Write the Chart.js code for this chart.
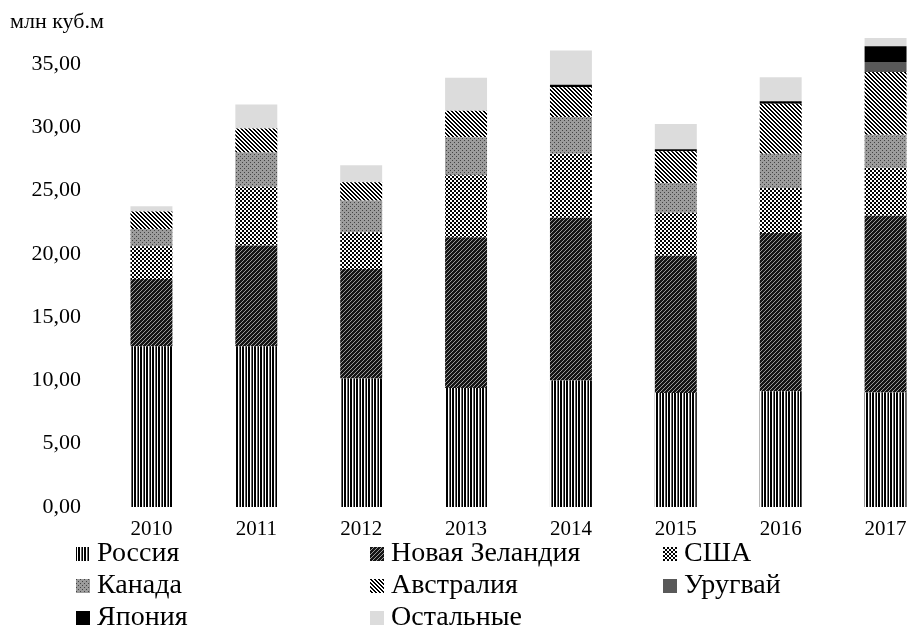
<!DOCTYPE html>
<html>
<head>
<meta charset="utf-8">
<script src="https://cdn.jsdelivr.net/npm/chart.js@4"></script>
<style>
  html, body { margin: 0; padding: 0; background: #fff; overflow: hidden; width: 908px; height: 630px; }
  #wrap { position: relative; width: 908px; height: 630px; overflow: hidden; }
  #chart { position: absolute; left: 0; top: 0; }
  #legend {
    position: absolute; left: 76px; top: 536px;
    display: grid; grid-template-columns: 294px 293px 200px; grid-auto-rows: 32px;
    font-family: "Liberation Serif", "Times New Roman", serif; font-size: 28px; color: #000;
  }
  .item { display: flex; align-items: center; white-space: nowrap; line-height: 32px; }
  .item canvas { width: 14px; height: 14px; margin-right: 7px; margin-top: 3px; flex: none; }
</style>
</head>
<body>
<div id="wrap">
  <canvas id="chart" width="938" height="540" style="width:938px;height:540px"></canvas>
  <div id="legend"></div>
</div>
<script>
// годы
const years = ['2010', '2011', '2012', '2013', '2014', '2015', '2016', '2017'];

// млн куб.м, снизу вверх по столбцу
const russia     = [12.7, 12.7, 10.15, 9.4, 10.0, 9.0, 9.15, 9.05];
const newZealand = [5.3, 7.95, 8.65, 11.9, 12.85, 10.85, 12.5, 13.95];
const usa        = [2.6, 4.65, 2.9, 4.9, 5.05, 3.4, 3.55, 3.8];
const canada     = [1.35, 2.7, 2.5, 3.0, 2.9, 2.35, 2.7, 2.6];
const australia  = [1.4, 1.9, 1.45, 2.1, 2.35, 2.5, 3.95, 4.95];
const uruguay    = [0, 0, 0, 0, 0, 0, 0, 0.8];
const japan      = [0, 0, 0, 0, 0.2, 0.15, 0.2, 1.25];
const others     = [0.4, 1.9, 1.35, 2.6, 2.7, 2.0, 1.9, 0.65];

const seriesNames = ['Россия', 'Новая Зеландия', 'США', 'Канада', 'Австралия', 'Уругвай', 'Япония', 'Остальные'];
const seriesData = [russia, newZealand, usa, canada, australia, uruguay, japan, others];

// small tiles for the hatch fills
function tile(w, h, draw) {
    const c = document.createElement('canvas');
    c.width = w; c.height = h;
    draw(c.getContext('2d'));
    return c;
}
function px(ctx, color, pts) {
    ctx.fillStyle = color;
    pts.forEach(p => ctx.fillRect(p[0], p[1], 1, 1));
}

const tiles = [
    // Россия - vertical lines
    tile(6, 1, g => {
        px(g, '#000', [[0, 0], [2, 0], [3, 0]]);
        px(g, '#fff', [[1, 0], [4, 0]]);
        px(g, '#666', [[5, 0]]);
    }),
    // Новая Зеландия - dark with thin "/" lines
    tile(4, 4, g => {
        g.fillStyle = '#151515'; g.fillRect(0, 0, 4, 4);
        px(g, '#999', [[3, 0], [2, 1], [1, 2], [0, 3]]);
    }),
    // США - checkerboard
    tile(4, 4, g => {
        g.fillStyle = '#fff'; g.fillRect(0, 0, 4, 4);
        g.fillStyle = '#000'; g.fillRect(0, 0, 2, 2); g.fillRect(2, 2, 2, 2);
    }),
    // Канада - gray with dots
    tile(4, 4, g => {
        g.fillStyle = '#9c9c9c'; g.fillRect(0, 0, 4, 4);
        px(g, '#444', [[0, 0], [2, 2]]);
    }),
    // Австралия - "\" stripes
    tile(4, 4, g => {
        g.fillStyle = '#fff'; g.fillRect(0, 0, 4, 4);
        for (let i = 0; i < 4; i++) {
            px(g, '#000', [[i, i], [(i + 1) % 4, i]]);
        }
    }),
    tile(1, 1, g => { g.fillStyle = '#595959'; g.fillRect(0, 0, 1, 1); }),
    tile(1, 1, g => { g.fillStyle = '#000'; g.fillRect(0, 0, 1, 1); }),
    tile(1, 1, g => { g.fillStyle = '#dcdcdc'; g.fillRect(0, 0, 1, 1); })
];

const ctx = document.getElementById('chart').getContext('2d');
const fills = tiles.map(t => ctx.createPattern(t, 'repeat'));

const font = '"Liberation Serif", "Times New Roman", serif';

new Chart(ctx, {
    type: 'bar',
    data: {
        labels: years,
        datasets: seriesNames.map((name, i) => ({
            label: name,
            data: seriesData[i],
            backgroundColor: fills[i],
            borderWidth: 0,
            categoryPercentage: 1,
            barPercentage: 0.4
        }))
    },
    options: {
        responsive: false,
        animation: false,
        layout: { padding: { left: 10, right: 0, top: 0, bottom: 0 } },
        plugins: {
            legend: { display: false },
            tooltip: { enabled: false },
            title: {
                display: true,
                text: 'млн куб.м',
                align: 'start',
                color: '#000',
                font: { family: font, size: 22, weight: 'normal', lineHeight: 1 },
                padding: { top: 11, bottom: 0 }
            }
        },
        scales: {
            x: {
                stacked: true,
                grid: { display: false },
                border: { display: false },
                ticks: { color: '#000', font: { family: font, size: 21 }, padding: 2, maxRotation: 0 },
                afterFit: s => { s.height = 33; }
            },
            y: {
                stacked: true,
                min: 0,
                max: 37.44,
                grid: { display: false },
                border: { display: false },
                afterBuildTicks: s => { s.ticks = s.ticks.filter(t => Math.abs(t.value % 5) < 1e-6); },
                ticks: {
                    stepSize: 5,
                    color: '#000',
                    padding: 10,
                    font: { family: font, size: 22 },
                    callback: v => v.toFixed(2).replace('.', ',')
                },
                afterFit: s => { s.width = 89; }
            }
        }
    }
});

// legend in three columns
const legend = document.getElementById('legend');
seriesNames.forEach((name, i) => {
    const item = document.createElement('div');
    item.className = 'item';
    const sw = document.createElement('canvas');
    sw.width = 14; sw.height = 14;
    const g = sw.getContext('2d');
    g.fillStyle = g.createPattern(tiles[i], 'repeat');
    g.fillRect(0, 0, 14, 14);
    item.appendChild(sw);
    const span = document.createElement('span');
    span.textContent = name;
    item.appendChild(span);
    legend.appendChild(item);
});
</script>
</body>
</html>
